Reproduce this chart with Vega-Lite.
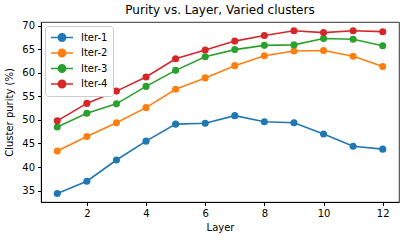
{
  "$schema": "https://vega.github.io/schema/vega-lite/v6.json",
  "width": 358,
  "height": 180,
  "autosize": "none",
  "padding": {"left": 41, "top": 22, "right": 8, "bottom": 38},
  "title": {"text": "Purity vs. Layer, Varied clusters", "fontSize": 12, "font": "DejaVu Sans", "fontWeight": "normal", "color": "black", "offset": 4},
  "config": {
    "view": {"stroke": "black", "strokeWidth": 0.8},
    "axis": {"grid": false, "domainColor": "black", "tickColor": "black", "tickSize": 3.5, "labelFontSize": 10, "labelColor": "black", "labelFont": "DejaVu Sans", "titleFont": "DejaVu Sans", "titleFontWeight": "normal", "titleFontSize": 10, "titleColor": "black", "labelPadding": 3}
  },
  "data": {"values": [
    {"layer": 1, "purity": 34.4, "series": "Iter-1"},
    {"layer": 2, "purity": 37.0, "series": "Iter-1"},
    {"layer": 3, "purity": 41.5, "series": "Iter-1"},
    {"layer": 4, "purity": 45.5, "series": "Iter-1"},
    {"layer": 5, "purity": 49.1, "series": "Iter-1"},
    {"layer": 6, "purity": 49.3, "series": "Iter-1"},
    {"layer": 7, "purity": 50.9, "series": "Iter-1"},
    {"layer": 8, "purity": 49.6, "series": "Iter-1"},
    {"layer": 9, "purity": 49.4, "series": "Iter-1"},
    {"layer": 10, "purity": 47.0, "series": "Iter-1"},
    {"layer": 11, "purity": 44.4, "series": "Iter-1"},
    {"layer": 12, "purity": 43.8, "series": "Iter-1"},
    {"layer": 1, "purity": 43.4, "series": "Iter-2"},
    {"layer": 2, "purity": 46.5, "series": "Iter-2"},
    {"layer": 3, "purity": 49.4, "series": "Iter-2"},
    {"layer": 4, "purity": 52.6, "series": "Iter-2"},
    {"layer": 5, "purity": 56.5, "series": "Iter-2"},
    {"layer": 6, "purity": 58.9, "series": "Iter-2"},
    {"layer": 7, "purity": 61.5, "series": "Iter-2"},
    {"layer": 8, "purity": 63.6, "series": "Iter-2"},
    {"layer": 9, "purity": 64.6, "series": "Iter-2"},
    {"layer": 10, "purity": 64.7, "series": "Iter-2"},
    {"layer": 11, "purity": 63.5, "series": "Iter-2"},
    {"layer": 12, "purity": 61.3, "series": "Iter-2"},
    {"layer": 1, "purity": 48.5, "series": "Iter-3"},
    {"layer": 2, "purity": 51.4, "series": "Iter-3"},
    {"layer": 3, "purity": 53.4, "series": "Iter-3"},
    {"layer": 4, "purity": 57.1, "series": "Iter-3"},
    {"layer": 5, "purity": 60.5, "series": "Iter-3"},
    {"layer": 6, "purity": 63.4, "series": "Iter-3"},
    {"layer": 7, "purity": 64.9, "series": "Iter-3"},
    {"layer": 8, "purity": 65.8, "series": "Iter-3"},
    {"layer": 9, "purity": 65.9, "series": "Iter-3"},
    {"layer": 10, "purity": 67.25, "series": "Iter-3"},
    {"layer": 11, "purity": 67.1, "series": "Iter-3"},
    {"layer": 12, "purity": 65.7, "series": "Iter-3"},
    {"layer": 1, "purity": 49.8, "series": "Iter-4"},
    {"layer": 2, "purity": 53.5, "series": "Iter-4"},
    {"layer": 3, "purity": 56.1, "series": "Iter-4"},
    {"layer": 4, "purity": 59.1, "series": "Iter-4"},
    {"layer": 5, "purity": 62.95, "series": "Iter-4"},
    {"layer": 6, "purity": 64.8, "series": "Iter-4"},
    {"layer": 7, "purity": 66.7, "series": "Iter-4"},
    {"layer": 8, "purity": 67.9, "series": "Iter-4"},
    {"layer": 9, "purity": 68.9, "series": "Iter-4"},
    {"layer": 10, "purity": 68.5, "series": "Iter-4"},
    {"layer": 11, "purity": 68.9, "series": "Iter-4"},
    {"layer": 12, "purity": 68.7, "series": "Iter-4"}
  ]},
  "encoding": {
    "x": {"field": "layer", "type": "quantitative", "scale": {"domain": [0.45, 12.55], "nice": false, "zero": false}, "axis": {"values": [2, 4, 6, 8, 10, 12], "title": "Layer", "titlePadding": 4}},
    "y": {"field": "purity", "type": "quantitative", "scale": {"domain": [32.6, 70.75], "nice": false, "zero": false}, "axis": {"values": [35, 40, 45, 50, 55, 60, 65, 70], "title": "Cluster purity (%)", "titlePadding": 7}},
    "color": {"field": "series", "type": "nominal", "scale": {"domain": ["Iter-1", "Iter-2", "Iter-3", "Iter-4"], "range": ["#1f77b4", "#ff7f0e", "#2ca02c", "#d62728"]},
      "legend": {"title": null, "orient": "none", "legendX": 4, "legendY": 4, "padding": 5, "strokeColor": "#cccccc", "fillColor": "white", "cornerRadius": 3, "labelFontSize": 10, "labelFont": "DejaVu Sans", "labelColor": "black", "rowPadding": 0.5, "symbolSize": 121, "symbolType": "M-1,0H3M1.66,0A0.66,0.66 0 1 1 0.34,0A0.66,0.66 0 1 1 1.66,0", "symbolStrokeWidth": 1.6, "labelOffset": 18,
        "encode": {"symbols": {"update": {"fill": {"field": "value", "scale": "color"}, "stroke": {"field": "value", "scale": "color"}, "fillOpacity": {"value": 1}, "strokeOpacity": {"value": 1}}}}}
    }
  },
  "layer": [
    {"mark": {"type": "line", "strokeWidth": 1.6}},
    {"mark": {"type": "circle", "size": 50, "opacity": 1}}
  ]
}
